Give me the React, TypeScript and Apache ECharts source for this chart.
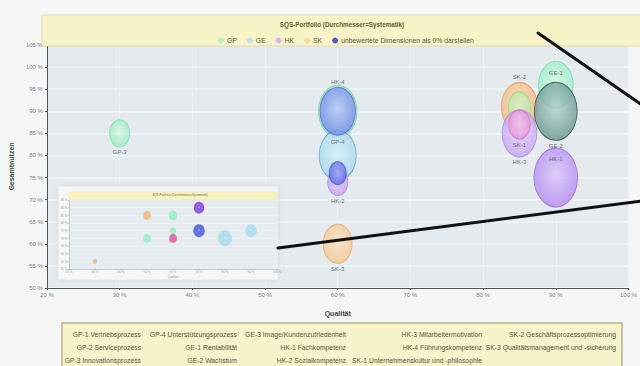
import React, { useEffect, useRef } from "react";
import * as echarts from "echarts";

// ---- main portfolio data: [Qualität %, Gesamtnutzen %, Systematik (bubble diameter)] ----
const gpNames = ["GP-3", "GP-1", "GP-4"];
const gpQualitaet = [30, 60, 60];
const gpNutzen = [85, 90, 80];
const gpSystematik = [27, 52, 50];

const skNames = ["SK-3", "SK-2"];
const skQualitaet = [60, 85];
const skNutzen = [60, 91];
const skSystematik = [39, 49];

const geNames = ["GE-1", "GE-3", "GE-2"];
const geQualitaet = [90, 85, 90];
const geNutzen = [96, 91, 90];
const geSystematik = [47, 30, 58];

const hkNames = ["HK-4", "HK-2", "HK-1", "HK-3", "SK-1", "HK-1"];
const hkQualitaet = [60, 60, 60, 85, 85, 90];
const hkNutzen = [90, 74, 76, 85, 87, 75];
const hkSystematik = [48, 27, 23, 47, 29, 59];

// ---- inset (small portfolio) data ----
const insetQualitaet = [30, 50, 50, 60, 60, 60, 70, 70, 80, 90];
const insetNutzen = [55, 85, 70, 85, 75, 70, 90, 75, 70, 75];
const insetSystematik = [5, 9, 9, 10, 7, 9, 12, 13, 16, 13];

// ---- text content ----
const chartTitle = "SQS-Portfolio (Durchmesser=Systematik)";
const legendNames = ["GP", "GE", "HK", "SK", "unbewertete Dimensionen als 0% darstellen"];
const dimensionRows = [
  ["GP-1 Vertriebsprozess", "GP-4 Unterstützungsprozess", "GE-3 Image/Kundenzufriedenheit", "HK-3 Mitarbeitermotivation", "SK-2 Geschäftsprozessoptimierung"],
  ["GP-2 Serviceprozess", "GE-1 Rentabilität", "HK-1 Fachkompetenz", "HK-4 Führungskompetenz", "SK-3 Qualitätsmanagement und -sicherung"],
  ["GP-3 Innovationsprozess", "GE-2 Wachstum", "HK-2 Sozialkompetenz", "SK-1 Unternehmenskultur und -philosophie", ""],
];

// ---- styles (kept apart from the values) ----
const legendColors: Record<string, string> = {
  GP: "#a6f0c8",
  GE: "#a8dff2",
  HK: "#c8a2f6",
  SK: "#f6d68e",
  "unbewertete Dimensionen als 0% darstellen": "#2233c0",
};

type Look = { inner: string; outer: string; border: string; label: "top" | "bottom" | "inTop" | "none" };

const gpLook: Look[] = [
  { inner: "#d6fbe6", outer: "#8eecbc", border: "#7ad8a8", label: "bottom" },
  { inner: "#c8f8de", outer: "#86e8b8", border: "#70d0a0", label: "none" },
  { inner: "#d4eef8", outer: "#9cd6ee", border: "#5c9cc0", label: "inTop" },
];
const skLook: Look[] = [
  { inner: "#fbe2c4", outer: "#f4c488", border: "#e0a868", label: "bottom" },
  { inner: "#fbdcb8", outer: "#f2b478", border: "#dc9a5c", label: "top" },
];
const geLook: Look[] = [
  { inner: "#d2fbe4", outer: "#8eeebe", border: "#78d6a8", label: "inTop" },
  { inner: "#d4f2c0", outer: "#b4e6a0", border: "#9ccf88", label: "none" },
  { inner: "#b4d0c8", outer: "#5e8e88", border: "#2c4644", label: "bottom" },
];
const hkLook: Look[] = [
  { inner: "#b8c4fa", outer: "#6e80ec", border: "#5a6cd8", label: "top" },
  { inner: "#e4d0fa", outer: "#c09cf0", border: "#a884dc", label: "bottom" },
  { inner: "#98a4f6", outer: "#4e5ee4", border: "#4252cc", label: "none" },
  { inner: "#e2d0fa", outer: "#c2a0f0", border: "#a888dc", label: "bottom" },
  { inner: "#f6c6ee", outer: "#e48ada", border: "#cc74c4", label: "bottom" },
  { inner: "#dcc4fa", outer: "#ae80f0", border: "#9468dc", label: "inTop" },
];
const insetColors = ["#f2b878", "#f2b878", "#96eec4", "#96eec4", "#96eec4", "#e0589a", "#8244e2", "#4c5ce2", "#aadcf0", "#aadcf0"];

const ratio = 0.74;

function buildBubbles(names: string[], q: number[], n: number[], s: number[], looks: Look[]) {
  return names.map((name, i) => {
    const look = looks[i];
    let label: any = { show: false };
    if (look.label === "top") label = { show: true, position: "top", distance: 2 };
    if (look.label === "bottom") label = { show: true, position: "bottom", distance: 2 };
    if (look.label === "inTop") label = { show: true, position: "insideTop", distance: 9 };
    return {
      name,
      value: [q[i], n[i], s[i]],
      itemStyle: {
        color: new echarts.graphic.RadialGradient(0.5, 0.45, 0.6, [
          { offset: 0, color: look.inner },
          { offset: 1, color: look.outer },
        ]),
        borderColor: look.border,
        borderWidth: 1,
        opacity: 0.78,
      },
      label,
    };
  });
}

export default function App() {
  const ref = useRef<HTMLDivElement>(null);

  useEffect(() => {
    if (!ref.current) return;
    const chart = echarts.init(ref.current, null, { renderer: "svg" });

    const labelStyle = {
      formatter: "{b}",
      fontSize: 6,
      color: "#404448",
      fontFamily: "Liberation Sans",
    };

    const mainSeries = (name: string, data: any[]) => ({
      type: "scatter",
      name,
      xAxisIndex: 0,
      yAxisIndex: 0,
      z: 2,
      itemStyle: { color: legendColors[name] },
      symbolSize: (v: number[]) => [v[2] * ratio, v[2]],
      label: labelStyle,
      emphasis: { disabled: true },
      data,
    });

    const tableTexts: any[] = [];
    const colRight = [141, 237, 346, 482, 616];
    const rowY = [334, 347, 360];
    dimensionRows.forEach((row, r) =>
      row.forEach((t, c) => {
        if (!t) return;
        tableTexts.push({
          type: "text",
          z: 11,
          x: colRight[c],
          y: rowY[r],
          style: {
            text: t,
            align: "right",
            verticalAlign: "middle",
            fontSize: 6.8,
            fill: "#56563e",
            fontFamily: "Liberation Sans",
          },
        });
      })
    );

    const option: any = {
      animation: false,
      backgroundColor: "#f5f7f7",
      grid: [
        {
          left: 44,
          top: 45,
          right: 3,
          bottom: 78,
          show: true,
          backgroundColor: "#e4eaee",
          borderWidth: 0,
        },
        {
          left: 69,
          top: 200,
          width: 208,
          height: 69,
          show: true,
          backgroundColor: "#e6ecef",
          borderWidth: 0,
          z: 6,
        },
      ],
      xAxis: [
        {
          type: "value",
          gridIndex: 0,
          min: 20,
          max: 100,
          interval: 10,
          name: "Qualität",
          nameLocation: "middle",
          nameGap: 22,
          nameTextStyle: { fontSize: 7, fontWeight: "bold", color: "#3c4a44", fontFamily: "Liberation Sans" },
          axisLine: { lineStyle: { color: "#4c5a60", width: 1 } },
          axisTick: { length: 2, lineStyle: { color: "#4c5a60" } },
          axisLabel: { formatter: "{value} %", fontSize: 6, color: "#7a7e80", margin: 4, fontFamily: "Liberation Sans" },
          splitLine: { show: true, lineStyle: { color: "#eef2f4", width: 1 } },
        },
        {
          type: "value",
          gridIndex: 1,
          min: 20,
          max: 100,
          interval: 10,
          z: 7,
          name: "Qualität",
          nameLocation: "middle",
          nameGap: 6,
          nameTextStyle: { fontSize: 3, color: "#8a8e90" },
          axisLine: { lineStyle: { color: "#9aa4a8", width: 0.5 } },
          axisTick: { length: 1, lineStyle: { color: "#9aa4a8", width: 0.5 } },
          axisLabel: { formatter: "{value} %", fontSize: 3, color: "#9a9ea0", margin: 1.5 },
          splitLine: { show: false },
        },
      ],
      yAxis: [
        {
          type: "value",
          gridIndex: 0,
          min: 50,
          max: 105,
          interval: 5,
          name: "Gesamtnutzen",
          nameLocation: "middle",
          nameGap: 30,
          nameTextStyle: { fontSize: 7, fontWeight: "bold", color: "#3c4a44", fontFamily: "Liberation Sans" },
          axisLine: { show: true, lineStyle: { color: "#4c5a60", width: 1 } },
          axisTick: { show: true, length: 2, lineStyle: { color: "#4c5a60" } },
          axisLabel: { formatter: "{value} %", fontSize: 6, color: "#7a7e80", margin: 4, fontFamily: "Liberation Sans" },
          splitLine: { show: true, lineStyle: { color: "#f1f4f6", width: 1.5 } },
        },
        {
          type: "value",
          gridIndex: 1,
          min: 50,
          max: 95,
          interval: 5,
          z: 7,
          axisLine: { show: true, lineStyle: { color: "#9aa4a8", width: 0.5 } },
          axisTick: { show: true, length: 1, lineStyle: { color: "#9aa4a8", width: 0.5 } },
          axisLabel: { formatter: "{value} %", fontSize: 3, color: "#9a9ea0", margin: 1.5 },
          splitLine: { show: true, lineStyle: { color: "#f0f3f5", width: 0.6 } },
        },
      ],
      legend: {
        data: legendNames.map((n) => ({ name: n, icon: "circle" })),
        left: 213,
        top: 32,
        itemWidth: 6,
        itemHeight: 8,
        itemGap: 10,
        z: 4,
        textStyle: { fontSize: 6.8, color: "#5a5a48", fontFamily: "Liberation Sans", padding: [0, 0, 0, -2] },
        selectedMode: false,
      },
      graphic: [
        // header band above the plot
        {
          type: "rect",
          z: 1,
          shape: { x: 42, y: 15, width: 610, height: 31 },
          style: { fill: "#f8f4c8", stroke: "#e2ddb0", lineWidth: 1 },
        },
        {
          type: "text",
          z: 3,
          x: 342,
          y: 24,
          style: {
            text: chartTitle,
            align: "center",
            verticalAlign: "middle",
            fontSize: 6.3,
            fontWeight: "bold",
            fill: "#6a5a3a",
            fontFamily: "Liberation Sans",
          },
        },
        // inset frame
        {
          type: "rect",
          z: 5,
          shape: { x: 58, y: 186, width: 220, height: 94 },
          style: { fill: "#f5f7f7", stroke: "#e2e6e6", lineWidth: 1, shadowBlur: 3, shadowColor: "rgba(0,0,0,0.12)" },
        },
        {
          type: "rect",
          z: 8,
          shape: { x: 69, y: 192, width: 208, height: 8 },
          style: { fill: "#f8f2c0", stroke: "#ece6b0", lineWidth: 0.5 },
        },
        {
          type: "text",
          z: 9,
          x: 180,
          y: 194.5,
          style: { text: chartTitle, align: "center", verticalAlign: "middle", fontSize: 3, fill: "#7a6a4a" },
        },
        // dimension legend table
        {
          type: "rect",
          z: 10,
          shape: { x: 62, y: 323, width: 560, height: 52 },
          style: { fill: "#f7f4cc", stroke: "#b6b28c", lineWidth: 1.5 },
        },
        ...tableTexts,
        // magnifier guide lines
        {
          type: "line",
          z: 30,
          shape: { x1: 538, y1: 33, x2: 642, y2: 105 },
          style: { stroke: "#111", lineWidth: 3, lineCap: "round" },
        },
        {
          type: "line",
          z: 30,
          shape: { x1: 278, y1: 248, x2: 642, y2: 201 },
          style: { stroke: "#111", lineWidth: 3, lineCap: "round" },
        },
      ],
      series: [
        mainSeries("GP", buildBubbles(gpNames, gpQualitaet, gpNutzen, gpSystematik, gpLook)),
        mainSeries("SK", buildBubbles(skNames, skQualitaet, skNutzen, skSystematik, skLook)),
        mainSeries("GE", buildBubbles(geNames, geQualitaet, geNutzen, geSystematik, geLook)),
        mainSeries("HK", buildBubbles(hkNames, hkQualitaet, hkNutzen, hkSystematik, hkLook)),
        {
          type: "scatter",
          name: "unbewertete Dimensionen als 0% darstellen",
          itemStyle: { color: legendColors["unbewertete Dimensionen als 0% darstellen"] },
          data: [],
        },
        {
          type: "scatter",
          name: "inset",
          xAxisIndex: 1,
          yAxisIndex: 1,
          z: 8,
          emphasis: { disabled: true },
          symbolSize: (v: number[]) => [v[2] * 0.88, v[2]],
          data: insetQualitaet.map((q, i) => ({
            value: [q, insetNutzen[i], insetSystematik[i]],
            itemStyle: {
              color: new echarts.graphic.RadialGradient(0.5, 0.45, 0.6, [
                { offset: 0, color: "#ffffff" },
                { offset: 0.15, color: insetColors[i] },
                { offset: 1, color: insetColors[i] },
              ]),
              opacity: 0.85,
            },
          })),
        },
      ],
    };

    chart.setOption(option);
    return () => chart.dispose();
  }, []);

  return (
    <div
      ref={ref}
      style={{ position: "absolute", left: 0, top: 0, width: 640, height: 366 }}
    />
  );
}
